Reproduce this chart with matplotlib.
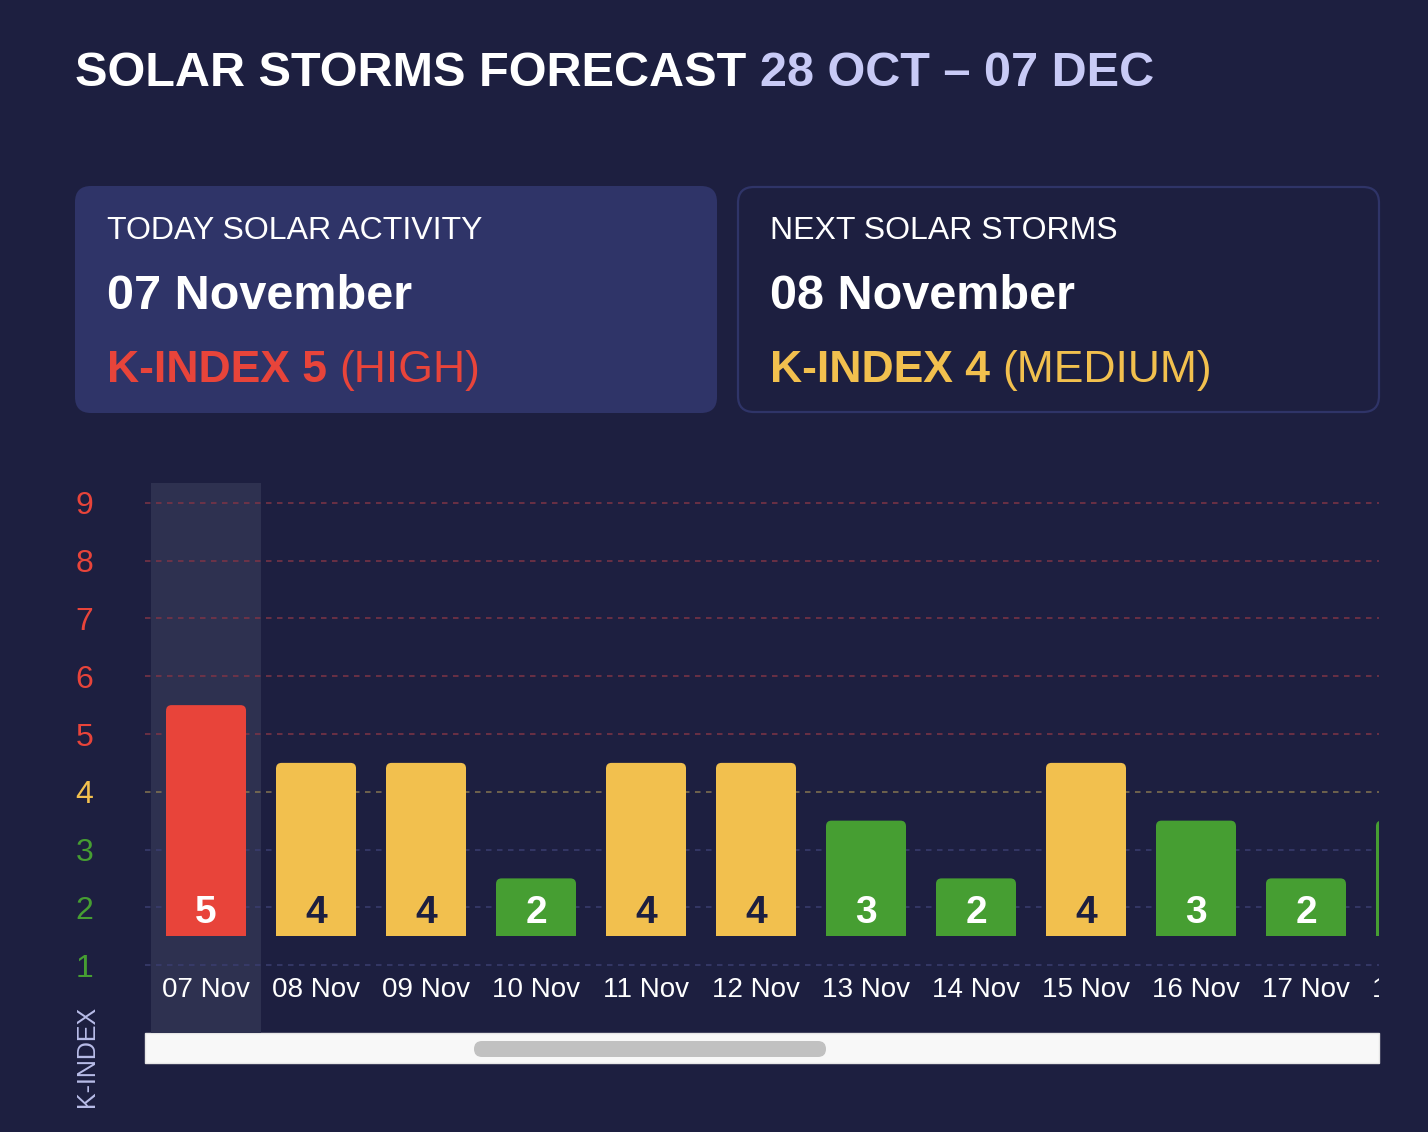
import matplotlib
matplotlib.use("Agg")
import matplotlib.pyplot as plt
from matplotlib.patches import FancyBboxPatch, Rectangle
import numpy as np

# ---- data ----
dates = ["07 Nov", "08 Nov", "09 Nov", "10 Nov", "11 Nov", "12 Nov",
         "13 Nov", "14 Nov", "15 Nov", "16 Nov", "17 Nov", "18 Nov"]
kindex = [5, 4, 4, 2, 4, 4, 3, 2, 4, 3, 2, 3]
yticks = [1, 2, 3, 4, 5, 6, 7, 8, 9]
title_main = "SOLAR STORMS FORECAST"
title_range = "28 OCT \u2013 07 DEC"
today_label = "TODAY SOLAR ACTIVITY"
today_date = "07 November"
today_k = "K-INDEX 5"
today_level = "(HIGH)"
next_label = "NEXT SOLAR STORMS"
next_date = "08 November"
next_k = "K-INDEX 4"
next_level = "(MEDIUM)"

# ---- style ----
BG = "#1d1f40"
RED = "#e8443a"
YEL = "#f2c04e"
GRN = "#469e32"
CARD = "#2f3468"
HIGHLIGHT = "#2e3150"
LAV = "#c8caf6"
FONT = "Liberation Sans"
plt.rcParams["font.family"] = [FONT, "DejaVu Sans"]
TITLE_SIZE = 35

def level_color(v):
    return RED if v >= 5 else (YEL if v == 4 else GRN)

def grid_color(v):
    return "#7e3446" if v >= 5 else ("#857550" if v == 4 else "#3a3e70")

W, H = 1428, 1132
fig = plt.figure(figsize=(W / 100, H / 100), dpi=100, facecolor=BG)

# overlay axes in pixel coordinates
ov = fig.add_axes([0, 0, 1, 1], zorder=0)
ov.set_xlim(0, W)
ov.set_ylim(H, 0)
ov.axis("off")
ov.set_facecolor(BG)

renderer = fig.canvas.get_renderer()

def text_after(t, s, **kw):
    bb = t.get_window_extent(renderer=renderer)
    return ov.text(bb.x1, t.get_position()[1], s, **kw)

# title
t1 = ov.text(75, 86, title_main + " ", color="white", fontsize=TITLE_SIZE, fontweight="bold",
             va="baseline", ha="left")
text_after(t1, title_range, color=LAV, fontsize=TITLE_SIZE, fontweight="bold",
           va="baseline", ha="left")

# cards
ov.add_patch(FancyBboxPatch((75, 186), 642, 227, boxstyle="round,pad=0,rounding_size=16",
                            facecolor=CARD, edgecolor="none"))
ov.add_patch(FancyBboxPatch((738, 187), 641, 225, boxstyle="round,pad=0,rounding_size=16",
                            facecolor=BG, edgecolor=CARD, linewidth=1.6))

for x0, lab, date, k, lev, col in [(107, today_label, today_date, today_k, today_level, RED),
                                    (770, next_label, next_date, next_k, next_level, YEL)]:
    ov.text(x0, 239, lab, color="white", fontsize=23, va="baseline", ha="left")
    ov.text(x0, 309, date, color="white", fontsize=35, fontweight="bold", va="baseline", ha="left")
    tk = ov.text(x0, 382, k + " ", color=col, fontsize=32, fontweight="bold", va="baseline", ha="left")
    text_after(tk, lev, color=col, fontsize=32, va="baseline", ha="left")

# scrollbar
ov.add_patch(Rectangle((145, 1033), 1234, 30, facecolor="#f8f8f8", edgecolor="#e6e6e6", linewidth=1))
ov.add_patch(FancyBboxPatch((474, 1041), 352, 16, boxstyle="round,pad=0,rounding_size=8",
                            facecolor="#c1c1c1", edgecolor="none"))

# K-INDEX axis label
ov.text(87, 1056, "K-INDEX", color="#b8bce8", fontsize=18, rotation=90, va="center", ha="center")

# ---- chart axes ----
ax = fig.add_axes([145 / W, (H - 1033) / H, (1379 - 145) / W, (1033 - 483) / H], zorder=1)
ax.set_facecolor("none")
x = np.arange(len(dates))
vals = np.array(kindex, dtype=float)
ax.set_xlim(-0.555, 10.664)
ax.set_ylim(-0.177, 9.346)
for s in ax.spines.values():
    s.set_visible(False)

# highlighted current day
ax.axvspan(x[0] - 0.5, x[0] + 0.5, color=HIGHLIGHT, zorder=0, linewidth=0)

# grid lines
for v in yticks:
    ax.axhline(v, color=grid_color(v), linewidth=1.1, linestyle=(0, (3.6, 3.6)), zorder=1)

# bars: from 1.5 to value+0.5, rounded top corners
bw = 0.727
colors = [level_color(v) for v in kindex]
rx = 0.05
aspect = (110 / 57.75)
ry = rx * aspect
bars = ax.bar(x, vals - 1 - ry, bottom=1.5, width=bw, color=colors, zorder=2, linewidth=0)
for rect, c, v in zip(bars, colors, vals):
    x0 = rect.get_x()
    top = 1.5 + (v - 1)
    ax.add_patch(FancyBboxPatch((x0, top - 3 * ry), bw, 3 * ry,
                                boxstyle=f"round,pad=0,rounding_size={rx}",
                                mutation_aspect=aspect, facecolor=c, edgecolor="none", zorder=2))

# value labels
for xi, v in zip(x, kindex):
    tc = BG if v == 4 else "white"
    ax.text(xi, 1.727, str(v), color=tc, fontsize=28, fontweight="bold",
            ha="center", va="baseline", zorder=3, clip_on=True)

# date labels (the last one is cut by the chart edge, as in the scrolled view)
for xi, d in zip(x, dates):
    ax.text(xi, 0.446, d, color="white", fontsize=20, ha="center", va="baseline",
            zorder=3, clip_on=True)

ax.set_xticks([])
ax.set_yticks(yticks)
ax.set_yticklabels([str(v) for v in yticks], fontsize=23)
for lab, v in zip(ax.get_yticklabels(), yticks):
    lab.set_color(level_color(v))
ax.tick_params(axis="y", length=0, pad=37)

fig.savefig("out.png", dpi=100, facecolor=BG)
